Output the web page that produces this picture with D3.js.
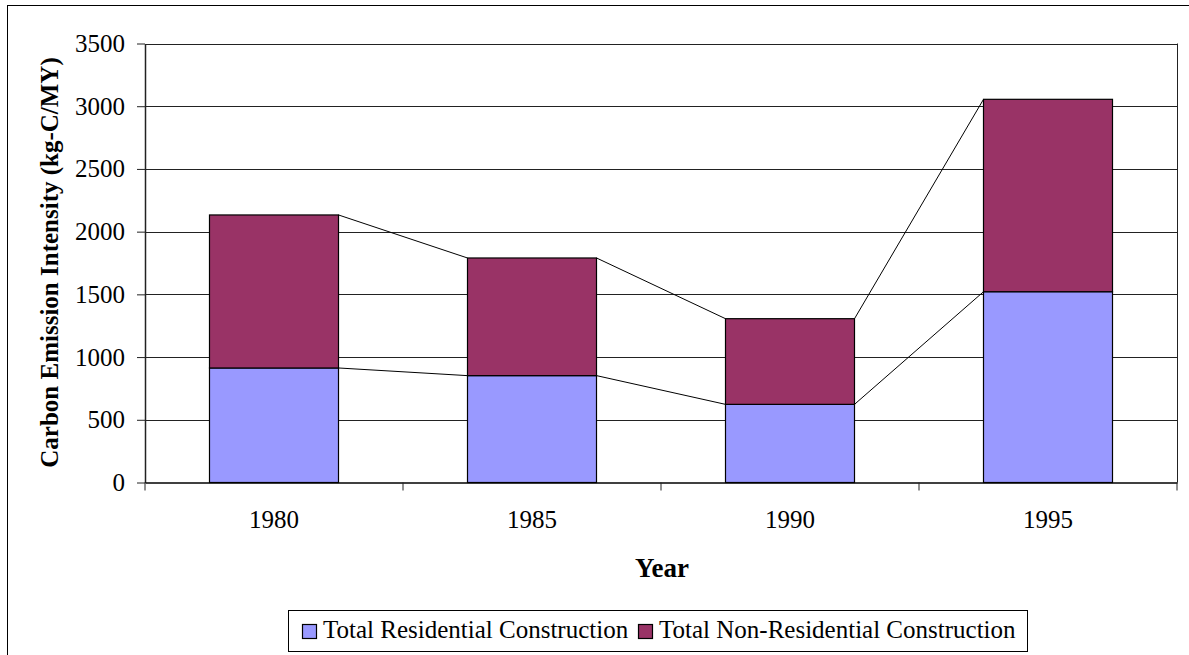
<!DOCTYPE html>
<html>
<head>
<meta charset="utf-8">
<script src="https://cdn.jsdelivr.net/npm/d3@7"></script>
<style>
  body { margin: 0; background: #fff; }
  text { font-family: "Liberation Serif", "Times New Roman", serif; }
</style>
</head>
<body>
<div id="chart"></div>
<script>
// data
const years = ["1980", "1985", "1990", "1995"];
const residential = [913, 852, 623, 1521];
const nonResidential = [1220, 938, 683, 1534];
const yTicks = [0, 500, 1000, 1500, 2000, 2500, 3000, 3500];
const seriesNames = ["Total Residential Construction", "Total Non-Residential Construction"];
const seriesColors = ["#9999FF", "#993366"];

const W = 1189, H = 655;
const plot = { left: 145, right: 1177, top: 43.5, bottom: 482.5 };
const FONT = "'Liberation Serif', 'Times New Roman', serif";

const svg = d3.select("#chart").append("svg")
    .attr("width", W).attr("height", H);

// outer chart border
svg.append("rect")
    .attr("x", 7.5).attr("y", 5.5)
    .attr("width", W + 10).attr("height", H + 10)
    .attr("fill", "none").attr("stroke", "#000").attr("stroke-width", 1);

const x = d3.scaleBand().domain(years).range([plot.left, plot.right]).paddingInner(0).paddingOuter(0);
const y = d3.scaleLinear().domain([0, 3500]).range([plot.bottom, plot.top]);

// gridlines
svg.append("g").selectAll("line")
    .data(yTicks.filter(d => d > 0))
    .enter().append("line")
    .attr("x1", plot.left).attr("x2", plot.right)
    .attr("y1", d => Math.round(y(d)) + 0.5).attr("y2", d => Math.round(y(d)) + 0.5)
    .attr("stroke", "#222").attr("stroke-width", 1);

// plot area right edge
svg.append("line")
    .attr("x1", plot.right + 0.5).attr("x2", plot.right + 0.5)
    .attr("y1", plot.top).attr("y2", plot.bottom)
    .attr("stroke", "#222");

// stacked bars
const stackData = years.map((yr, i) => ({ year: yr, res: residential[i], non: nonResidential[i] }));
const stack = d3.stack().keys(["res", "non"])(stackData);
const barW = x.bandwidth() / 2;

stack.forEach((layer, li) => {
    svg.append("g").selectAll("rect")
        .data(layer)
        .enter().append("rect")
        .attr("x", d => x(d.data.year) + (x.bandwidth() - barW) / 2)
        .attr("y", d => y(d[1]))
        .attr("width", barW)
        .attr("height", d => y(d[0]) - y(d[1]))
        .attr("fill", seriesColors[li])
        .attr("stroke", "#000").attr("stroke-width", 1.2);
});

// series lines between bars
stack.forEach(layer => {
    for (let i = 0; i < layer.length - 1; i++) {
        const x1 = x(years[i]) + (x.bandwidth() + barW) / 2;
        const x2 = x(years[i + 1]) + (x.bandwidth() - barW) / 2;
        svg.append("line")
            .attr("x1", x1).attr("y1", y(layer[i][1]))
            .attr("x2", x2).attr("y2", y(layer[i + 1][1]))
            .attr("stroke", "#000").attr("stroke-width", 1);
    }
});

// y axis
const yAxis = svg.append("g")
    .attr("transform", `translate(${plot.left},0)`)
    .call(d3.axisLeft(y).tickValues(yTicks).tickFormat(d3.format("d"))
        .tickSize(8).tickPadding(12).tickSizeOuter(0));
yAxis.select(".domain").attr("stroke", "#222").attr("stroke-width", 1.5);
yAxis.selectAll(".tick line").attr("stroke", "#222");
yAxis.selectAll("text").attr("font-size", 25).attr("fill", "#000")
    .style("font-family", FONT);

// x axis with ticks at category boundaries
const xAxis = svg.append("g")
    .attr("transform", `translate(0,${plot.bottom})`)
    .call(d3.axisBottom(x).tickSize(0));
xAxis.select(".domain").attr("stroke", "#000").attr("stroke-width", 1.5);
xAxis.selectAll("text").attr("font-size", 25).attr("fill", "#000")
    .attr("y", 45).attr("dy", 0)
    .style("font-family", FONT);
xAxis.selectAll(".bound")
    .data(d3.range(years.length + 1))
    .enter().append("line")
    .attr("x1", i => plot.left + i * x.bandwidth()).attr("x2", i => plot.left + i * x.bandwidth())
    .attr("y1", 0).attr("y2", 8)
    .attr("stroke", "#222");

// axis titles
svg.append("text")
    .attr("x", 662).attr("y", 577)
    .attr("text-anchor", "middle")
    .attr("font-size", 27).attr("font-weight", "bold")
    .text("Year");

svg.append("text")
    .attr("transform", `translate(58,262.5) rotate(-90)`)
    .attr("text-anchor", "middle")
    .attr("font-size", 25).attr("font-weight", "bold")
    .text("Carbon Emission Intensity (kg-C/MY)");

// legend
const lg = svg.append("g").attr("transform", "translate(288,610)");
lg.append("rect")
    .attr("x", 0.5).attr("y", 0.5).attr("width", 739).attr("height", 41)
    .attr("fill", "#fff").attr("stroke", "#000");
const legendX = [14, 350];
seriesNames.forEach((name, i) => {
    lg.append("rect")
        .attr("x", legendX[i] + 0.5).attr("y", 14.5).attr("width", 14).attr("height", 14)
        .attr("fill", seriesColors[i]).attr("stroke", "#000").attr("stroke-width", 1.2);
    lg.append("text")
        .attr("x", legendX[i] + 21).attr("y", 28)
        .attr("font-size", 25)
        .text(name);
});
</script>
</body>
</html>
